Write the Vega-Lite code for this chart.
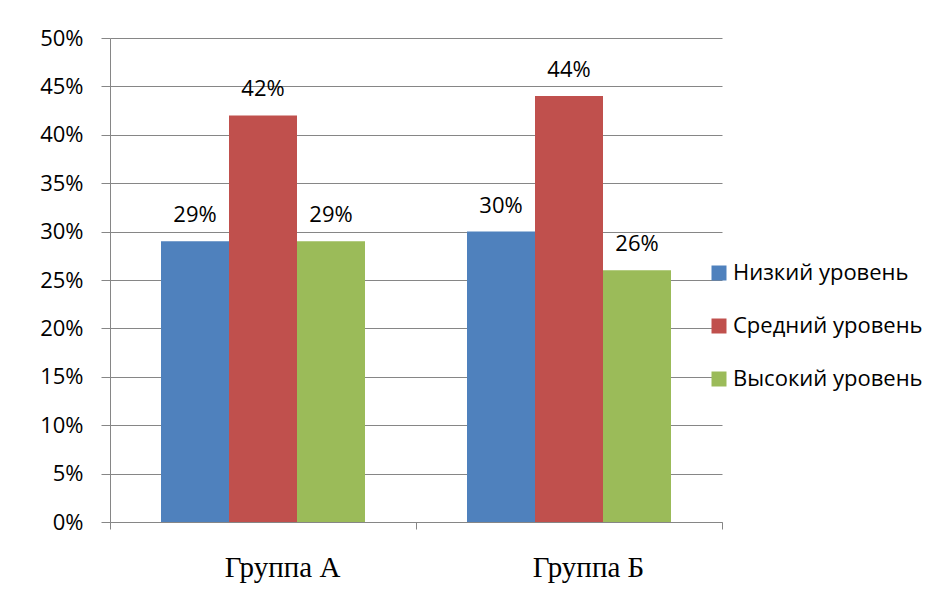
{
  "$schema": "https://vega.github.io/schema/vega-lite/v6.json",
  "autosize": {"type": "none"},
  "padding": {"left": 110, "top": 38, "right": 227, "bottom": 83},
  "width": 612,
  "height": 484,
  "background": "white",
  "data": {
    "values": [
      {"group": "Группа А", "level": "Низкий уровень", "value": 0.29},
      {"group": "Группа А", "level": "Средний уровень", "value": 0.42},
      {"group": "Группа А", "level": "Высокий уровень", "value": 0.29},
      {"group": "Группа Б", "level": "Низкий уровень", "value": 0.30},
      {"group": "Группа Б", "level": "Средний уровень", "value": 0.44},
      {"group": "Группа Б", "level": "Высокий уровень", "value": 0.26}
    ]
  },
  "encoding": {
    "x": {
      "field": "group",
      "type": "nominal",
      "sort": ["Группа А", "Группа Б"],
      "scale": {"paddingInner": 0, "paddingOuter": 0},
      "axis": {
        "title": null,
        "labelAngle": 0,
        "labelFont": "Liberation Serif",
        "labelFontSize": 29,
        "labelColor": "black",
        "labelPadding": 24,
        "labelOffset": 19,
        "tickBand": "extent",
        "tickSize": 7,
        "tickColor": "#868686",
        "domainColor": "#868686",
        "grid": false
      }
    },
    "xOffset": {
      "field": "level",
      "type": "nominal",
      "sort": ["Низкий уровень", "Средний уровень", "Высокий уровень"],
      "scale": {"paddingInner": 0, "paddingOuter": 0.75}
    },
    "y": {
      "field": "value",
      "type": "quantitative",
      "scale": {"domain": [0, 0.5], "nice": false},
      "axis": {
        "title": null,
        "values": [0, 0.05, 0.1, 0.15, 0.2, 0.25, 0.3, 0.35, 0.4, 0.45, 0.5],
        "format": ".0%",
        "labelFont": "Open Sans",
        "labelFontSize": 22,
        "labelColor": "black",
        "labelPadding": 18,
        "tickSize": 9,
        "tickColor": "#868686",
        "domainColor": "#868686",
        "grid": true,
        "gridColor": "#868686",
        "gridWidth": 1
      }
    }
  },
  "layer": [
    {
      "mark": {"type": "bar"},
      "encoding": {
        "color": {
          "field": "level",
          "type": "nominal",
          "sort": ["Низкий уровень", "Средний уровень", "Высокий уровень"],
          "scale": {
            "domain": ["Низкий уровень", "Средний уровень", "Высокий уровень"],
            "range": ["#4F81BD", "#C0504D", "#9BBB59"]
          },
          "legend": {
            "title": null,
            "orient": "none",
            "legendX": 598,
            "legendY": 224,
            "symbolType": "square",
            "symbolSize": 225,
            "symbolStrokeWidth": 0,
            "labelFont": "Open Sans",
            "labelFontSize": 22,
            "labelColor": "black",
            "labelOffset": 3,
            "labelLimit": 300,
            "rowPadding": 31
          }
        }
      }
    },
    {
      "mark": {"type": "text", "baseline": "alphabetic", "dy": -19, "font": "Open Sans", "fontSize": 22, "color": "black"},
      "encoding": {
        "text": {"field": "value", "type": "quantitative", "format": ".0%"}
      }
    }
  ],
  "config": {
    "view": {"stroke": null}
  }
}
